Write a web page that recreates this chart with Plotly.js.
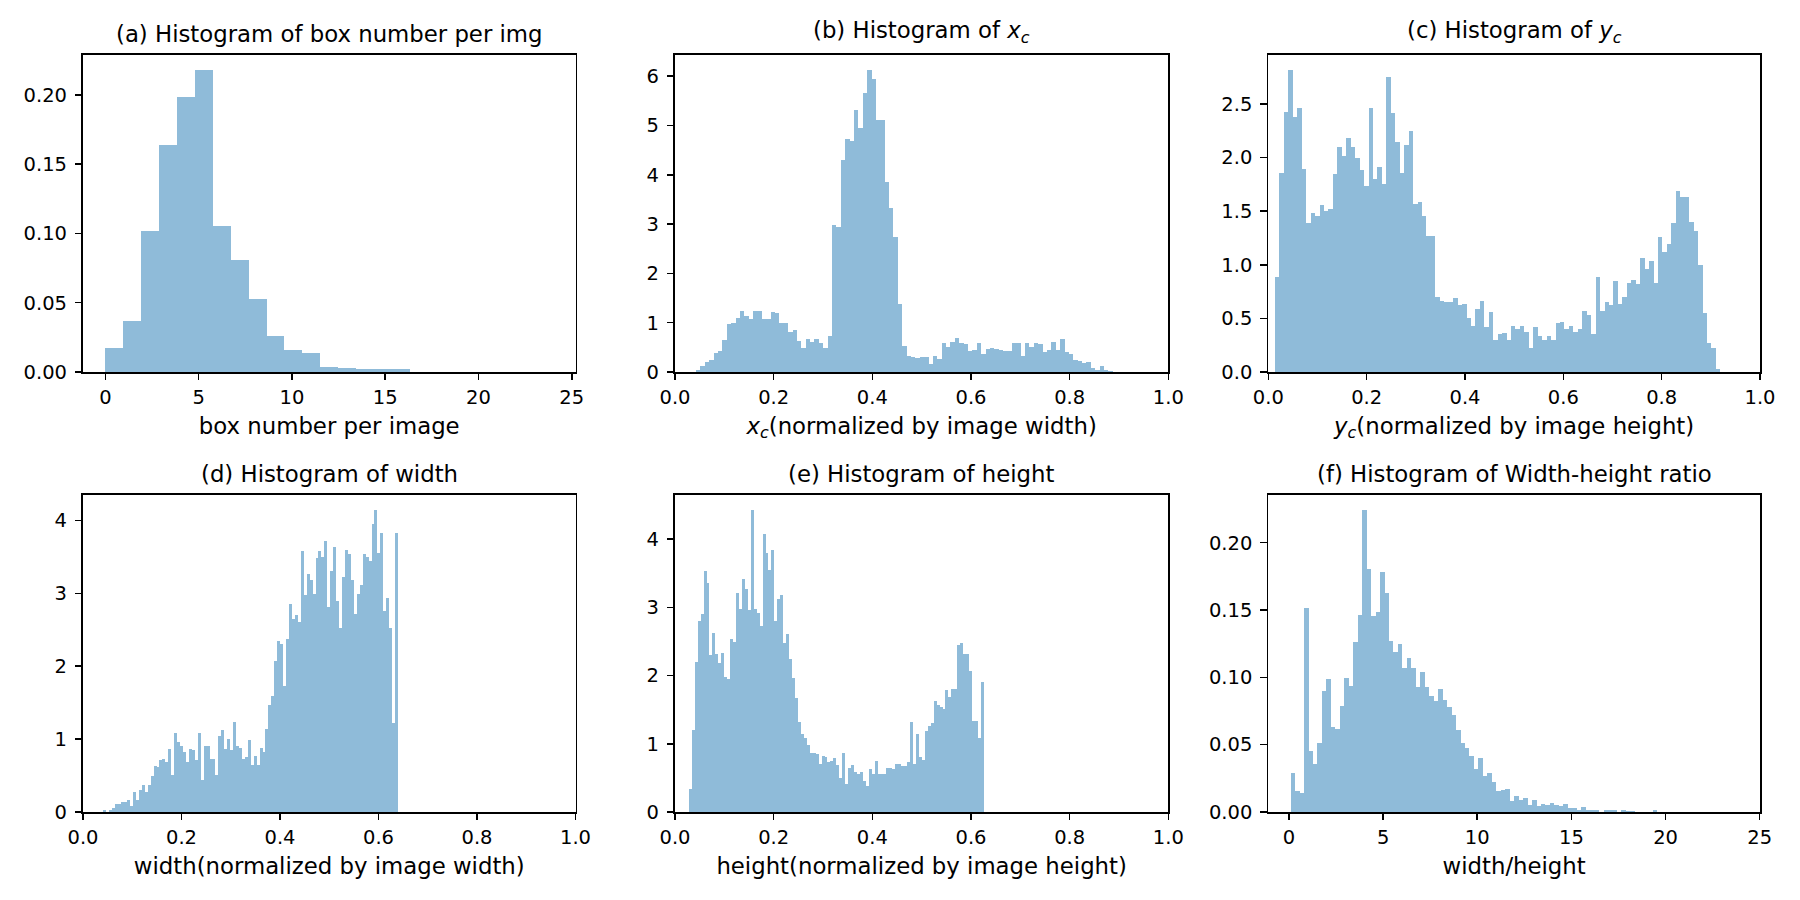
<!DOCTYPE html>
<html>
<head>
<meta charset="utf-8">
<script src="https://cdn.plot.ly/plotly-3.0.1.min.js"></script>
<style>html,body{margin:0;padding:0;background:#fff;}#chart{width:1800px;height:900px;}</style>
</head>
<body>
<div id="chart"></div>
<script>
// ---------------- data (density histograms) ----------------
// (a) box number per image: 25 bins of width 0.96 starting at 0
const boxBinStart = 0, boxBinWidth = 0.96;
const boxDensity = [0.0171, 0.0368, 0.1016, 0.1637, 0.1983, 0.2178, 0.1052, 0.0809, 0.0525, 0.0260,
  0.0156, 0.0137, 0.0034, 0.0026, 0.0019, 0.0019, 0.0019, 0.0003, 0.0002, 0.0001,
  0.0001, 0.0001, 0, 0, 0.0001];

// (b) x_c
const xcBinStart = 0.0426, xcBinWidth = 0.008894;
const xcDensity = [0.047, 0.115, 0.196, 0.237, 0.379, 0.419, 0.643, 0.967, 0.988, 1.089,
  1.231, 1.130, 1.069, 1.231, 1.231, 1.069, 1.069, 1.211, 1.190, 0.988,
  0.988, 0.805, 0.846, 0.622, 0.480, 0.663, 0.602, 0.663, 0.582, 0.480,
  0.724, 2.976, 2.936, 4.295, 4.721, 4.681, 5.310, 4.944, 5.655, 6.121,
  5.939, 5.107, 5.107, 3.849, 3.321, 2.733, 1.373, 0.521, 0.318, 0.298,
  0.277, 0.298, 0.298, 0.156, 0.318, 0.257, 0.582, 0.501, 0.602, 0.683,
  0.582, 0.561, 0.419, 0.440, 0.582, 0.358, 0.460, 0.480, 0.460, 0.440,
  0.419, 0.419, 0.582, 0.582, 0.318, 0.582, 0.501, 0.582, 0.561, 0.399,
  0.440, 0.602, 0.440, 0.663, 0.399, 0.358, 0.237, 0.216, 0.176, 0.196,
  0.074, 0.034, 0.115, 0.050, 0.030];

// (c) y_c
const ycBinStart = 0.0136, ycBinWidth = 0.009058;
const ycDensity = [0.884, 1.855, 2.425, 2.817, 2.378, 2.462, 1.893, 1.388, 1.482, 1.454,
  1.557, 1.500, 1.519, 1.846, 2.098, 2.014, 2.182, 2.098, 1.995, 1.883,
  1.734, 2.462, 1.799, 1.911, 1.753, 2.752, 2.416, 2.145, 1.855, 2.117,
  2.248, 1.566, 1.585, 1.454, 1.267, 1.267, 0.697, 0.660, 0.651, 0.651,
  0.688, 0.623, 0.632, 0.501, 0.426, 0.585, 0.660, 0.417, 0.557, 0.296,
  0.352, 0.361, 0.296, 0.426, 0.398, 0.426, 0.370, 0.221, 0.417, 0.333,
  0.296, 0.333, 0.296, 0.454, 0.464, 0.398, 0.426, 0.370, 0.398, 0.567,
  0.529, 0.352, 0.884, 0.567, 0.651, 0.623, 0.847, 0.632, 0.697, 0.828,
  0.856, 0.819, 1.062, 0.959, 1.034, 0.828, 1.258, 1.118, 1.192, 1.388,
  1.687, 1.631, 1.631, 1.398, 1.314, 0.996, 0.548, 0.268, 0.220, 0.030];

// (d) width
const wBinStart = 0.0416, wBinWidth = 0.00598;
const widthDensity = [0.032, 0, 0.032, 0.060, 0.105, 0.105, 0.133, 0.133, 0.160, 0.078,
  0.270, 0.160, 0.298, 0.366, 0.270, 0.366, 0.490, 0.627, 0.614, 0.710,
  0.723, 0.682, 0.861, 0.504, 1.081, 0.957, 0.902, 0.820, 0.682, 0.861,
  0.847, 0.710, 1.081, 0.435, 0.902, 0.902, 0.723, 0.723, 0.504, 1.039,
  1.122, 0.861, 0.998, 0.847, 1.232, 0.902, 0.875, 0.723, 0.751, 0.984,
  0.641, 0.765, 0.641, 0.875, 0.820, 1.136, 1.465, 1.589, 2.070, 2.344,
  2.303, 1.726, 2.372, 2.853, 2.647, 2.702, 2.605, 3.581, 2.976, 3.265,
  3.182, 2.990, 3.485, 3.581, 3.498, 3.718, 2.812, 3.306, 3.636, 2.894,
  2.523, 3.224, 3.595, 3.540, 3.182, 2.715, 2.990, 3.114, 3.540, 3.498,
  3.443, 3.952, 4.144, 3.553, 3.828, 2.757, 2.935, 2.520, 1.220, 3.830];

// (e) height
const hBinStart = 0.028, hBinWidth = 0.00598;
const heightDensity = [0.333, 1.198, 2.196, 2.797, 2.900, 3.531, 3.355, 2.298, 2.621, 2.313,
  2.181, 2.328, 1.976, 1.946, 2.533, 2.489, 3.208, 2.973, 3.413, 3.267,
  2.958, 4.425, 2.973, 2.914, 2.724, 4.073, 3.795, 3.545, 3.839, 2.797,
  3.120, 3.179, 2.474, 2.606, 2.240, 1.961, 1.667, 1.315, 1.139, 1.081,
  0.978, 0.861, 0.861, 0.846, 0.699, 0.817, 0.802, 0.729, 0.743, 0.787,
  0.685, 0.494, 0.861, 0.406, 0.641, 0.685, 0.582, 0.553, 0.582, 0.450,
  0.377, 0.626, 0.553, 0.743, 0.553, 0.553, 0.553, 0.641, 0.641, 0.626,
  0.699, 0.699, 0.670, 0.670, 0.729, 1.315, 0.699, 1.139, 0.802, 0.758,
  1.183, 1.257, 1.301, 1.623, 1.565, 1.535, 1.506, 1.785, 1.682, 1.800,
  1.800, 2.445, 2.474, 2.313, 2.313, 2.064, 1.330, 1.330, 1.090, 1.910];

// (f) width/height ratio
const rBinStart = 0.09, rBinWidth = 0.2374;
const ratioDensity = [0.0287, 0.0154, 0.0139, 0.1513, 0.0451, 0.0354, 0.0510, 0.0897, 0.0986, 0.0629,
  0.0614, 0.0785, 0.0993, 0.0934, 0.1261, 0.1461, 0.2242, 0.1803, 0.1454, 0.1484,
  0.1781, 0.1625, 0.1268, 0.1187, 0.1246, 0.1068, 0.1142, 0.1068, 0.0926, 0.1038,
  0.0926, 0.0860, 0.0822, 0.0912, 0.0830, 0.0778, 0.0718, 0.0607, 0.0510, 0.0473,
  0.0414, 0.0317, 0.0399, 0.0265, 0.0287, 0.0220, 0.0154, 0.0161, 0.0168, 0.0079,
  0.0116, 0.0087, 0.0102, 0.0050, 0.0087, 0.0042, 0.0057, 0.0050, 0.0064, 0.0050,
  0.0042, 0.0057, 0.0027, 0.0027, 0.0012, 0.0035, 0.0012, 0.0012, 0.0012, 0,
  0.0012, 0.0012, 0.0012, 0, 0.0012, 0.0004, 0.0004, 0, 0, 0,
  0, 0.0012, 0, 0, 0, 0, 0, 0, 0, 0,
  0, 0, 0, 0, 0, 0, 0, 0, 0, 0.0003];

// tick values / labels
const unitTicks = [0, 0.2, 0.4, 0.6, 0.8, 1.0];
const unitTickText = ['0.0', '0.2', '0.4', '0.6', '0.8', '1.0'];
const countTicks = [0, 5, 10, 15, 20, 25];
const countTickText = ['0', '5', '10', '15', '20', '25'];
const smallDensTicks = [0, 0.05, 0.10, 0.15, 0.20];
const smallDensText = ['0.00', '0.05', '0.10', '0.15', '0.20'];
const xcTicks = [0, 1, 2, 3, 4, 5, 6];
const ycTicks = [0, 0.5, 1.0, 1.5, 2.0, 2.5];
const ycTickText = ['0.0', '0.5', '1.0', '1.5', '2.0', '2.5'];
const whTicks = [0, 1, 2, 3, 4];

const titles = [
  '(a) Histogram of box number per img',
  '(b) Histogram of <i>x</i><sub><i>c</i></sub>',
  '(c) Histogram of <i>y</i><sub><i>c</i></sub>',
  '(d) Histogram of width',
  '(e) Histogram of height',
  '(f) Histogram of Width-height ratio'
];
const xLabels = [
  'box number per image',
  '<i>x</i><sub><i>c</i></sub>(normalized by image width)',
  '<i>y</i><sub><i>c</i></sub>(normalized by image height)',
  'width(normalized by image width)',
  'height(normalized by image height)',
  'width/height'
];

// ---------------- layout geometry ----------------
const W = 1800, H = 900;
const cols = [[83, 575.5], [675, 1168.3], [1268.3, 1760]];
const rows = [[55, 372], [495, 812]];
const FONT = 'DejaVu Sans, Liberation Sans, sans-serif';
const BAR = 'rgb(143,187,217)';

const panels = [
  {vals: boxDensity, start: boxBinStart, w: boxBinWidth, auto: true, xt: countTicks, xtt: countTickText, yt: smallDensTicks, ytt: smallDensText},
  {vals: xcDensity, start: xcBinStart, w: xcBinWidth, auto: false, xt: unitTicks, xtt: unitTickText, yt: xcTicks, ytt: xcTicks.map(String)},
  {vals: ycDensity, start: ycBinStart, w: ycBinWidth, auto: false, xt: unitTicks, xtt: unitTickText, yt: ycTicks, ytt: ycTickText},
  {vals: widthDensity, start: wBinStart, w: wBinWidth, auto: false, xt: unitTicks, xtt: unitTickText, yt: whTicks, ytt: whTicks.map(String)},
  {vals: heightDensity, start: hBinStart, w: hBinWidth, auto: false, xt: unitTicks, xtt: unitTickText, yt: whTicks, ytt: whTicks.map(String)},
  {vals: ratioDensity, start: rBinStart, w: rBinWidth, auto: true, xt: countTicks, xtt: countTickText, yt: smallDensTicks, ytt: smallDensText}
];

const data = [];
const layout = {
  width: W, height: H,
  margin: {l: 0, r: 0, t: 0, b: 0},
  paper_bgcolor: '#fff', plot_bgcolor: '#fff',
  showlegend: false,
  bargap: 0,
  font: {family: FONT, color: '#000'},
  annotations: []
};

panels.forEach((p, i) => {
  const n = i + 1;
  const r = Math.floor(i / 3), c = i % 3;
  const centers = p.vals.map((_, k) => p.start + (k + 0.5) * p.w);
  data.push({
    type: 'bar', x: centers, y: p.vals, width: p.w,
    xaxis: 'x' + n, yaxis: 'y' + n,
    marker: {color: BAR, line: {width: 0}},
    hoverinfo: 'x+y'
  });
  const lo = p.start, hi = p.start + p.vals.length * p.w;
  const xr = p.auto ? [lo - 0.05 * (hi - lo), hi + 0.05 * (hi - lo)] : [0, 1];
  const ymax = Math.max.apply(null, p.vals) * 1.05;
  const common = {
    showline: true, linecolor: '#000', linewidth: 1.6, mirror: true,
    ticks: 'outside', ticklen: 6.5, tickwidth: 1.6, tickcolor: '#000',
    showgrid: false, zeroline: false, fixedrange: true,
    tickfont: {family: FONT, size: 19.5, color: '#000'},
    tickmode: 'array'
  };
  layout['xaxis' + n] = Object.assign({}, common, {
    domain: [cols[c][0] / W, cols[c][1] / W],
    anchor: 'y' + n, range: xr,
    tickvals: p.xt, ticktext: p.xtt,
    title: {text: xLabels[i], font: {family: FONT, size: 22.8, color: '#000'}, standoff: 10}
  });
  layout['yaxis' + n] = Object.assign({}, common, {
    domain: [1 - rows[r][1] / H, 1 - rows[r][0] / H],
    anchor: 'x' + n, range: [0, ymax],
    tickvals: p.yt, ticktext: p.ytt,
    ticklabelstandoff: 4
  });
  layout.annotations.push({
    text: titles[i], xref: 'paper', yref: 'paper',
    x: (cols[c][0] + cols[c][1]) / 2 / W, y: 1 - (rows[r][0] - 6) / H,
    xanchor: 'center', yanchor: 'bottom', showarrow: false,
    font: {family: FONT, size: 22.8, color: '#000'}
  });
});

Plotly.newPlot('chart', data, layout, {displayModeBar: false, staticPlot: true});
</script>
</body>
</html>
